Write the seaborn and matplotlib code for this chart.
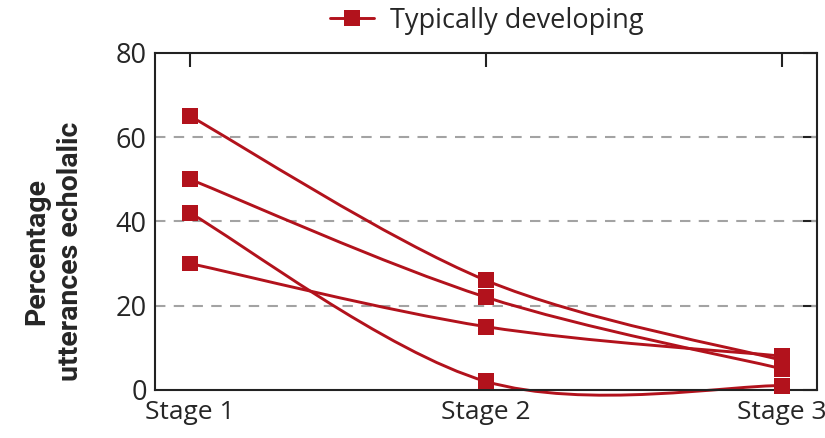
import pandas as pd
import seaborn as sns
import matplotlib.pyplot as plt
from matplotlib.path import Path
from matplotlib.patches import PathPatch
from matplotlib.lines import Line2D

# values (one series per child)
stages = ["Stage 1", "Stage 2", "Stage 3"]
child_a = [65, 26, 7]
child_b = [50, 22, 5]
child_c = [42, 2, 1]
child_d = [30, 15, 8]
y_ticks = [0, 20, 40, 60, 80]

red = "#b2121c"

rows = []
for name, vals in zip(["a", "b", "c", "d"], [child_a, child_b, child_c, child_d]):
    for i, v in enumerate(vals):
        rows.append({"child": name, "pos": i, "stage": stages[i], "value": v})
df = pd.DataFrame(rows)

sns.set_theme(style="white")
plt.rcParams["font.family"] = ["Open Sans", "DejaVu Sans"]

fig = plt.figure(figsize=(8.25, 4.38), dpi=100)
ax = fig.add_axes([0.188, 0.11, 0.802, 0.769])


def smooth_path(xs, ys):
    # catmull-rom style bezier through the points (like a "smoothed line")
    pts = list(zip(xs, ys))
    verts = [pts[0]]
    codes = [Path.MOVETO]
    n = len(pts)
    for i in range(n - 1):
        p0 = pts[i - 1] if i > 0 else pts[i]
        p1 = pts[i]
        p2 = pts[i + 1]
        p3 = pts[i + 2] if i + 2 < n else pts[i + 1]
        c1 = (p1[0] + (p2[0] - p0[0]) / 6, p1[1] + (p2[1] - p0[1]) / 6)
        c2 = (p2[0] - (p3[0] - p1[0]) / 6, p2[1] - (p3[1] - p1[1]) / 6)
        verts += [c1, c2, p2]
        codes += [Path.CURVE4] * 3
    return Path(verts, codes)


for name, g in df.groupby("child"):
    patch = PathPatch(smooth_path(g["pos"].tolist(), g["value"].tolist()),
                      fill=False, edgecolor=red, lw=2.1, clip_on=False, zorder=2)
    ax.add_patch(patch)

sns.scatterplot(data=df, x="pos", y="value", marker="s", s=130, color=red,
                edgecolor="none", linewidth=0, legend=False, clip_on=False,
                zorder=3, ax=ax)

for y in [20, 40, 60]:
    ax.axhline(y, color="#a3a3a3", lw=1.5, ls=(0, (5, 4)), zorder=1)

ax.set_xlim(-0.118, 2.118)
ax.set_ylim(0, 80)
ax.set_xticks(range(len(stages)))
ax.set_xticklabels(stages, fontsize=19)
ax.set_yticks(y_ticks)
ax.set_yticklabels([str(t) for t in y_ticks], fontsize=19.5)
ax.tick_params(direction="in", length=10, width=1.5, color="#222222",
               top=True, right=True, pad=6)
ax.tick_params(axis="x", pad=7)
for s in ax.spines.values():
    s.set_linewidth(1.5)
    s.set_color("#222222")
    s.set_visible(True)

ax.set_xlabel("")
ax.set_ylabel("Percentage\nutterances echolalic", fontsize=20.5, fontweight="bold",
              family=["Roboto", "DejaVu Sans"], linespacing=1.3)
ax.yaxis.set_label_coords(-0.108, 0.41)

handle = Line2D([], [], color=red, lw=2.1, marker="s", markersize=11,
                markeredgewidth=0)
fig.legend([handle], ["Typically developing"], loc="center",
           bbox_to_anchor=(0.59, 0.953), frameon=False, fontsize=19.5,
           handlelength=1.6, handletextpad=0.6)

fig.savefig("out.png", dpi=100)
